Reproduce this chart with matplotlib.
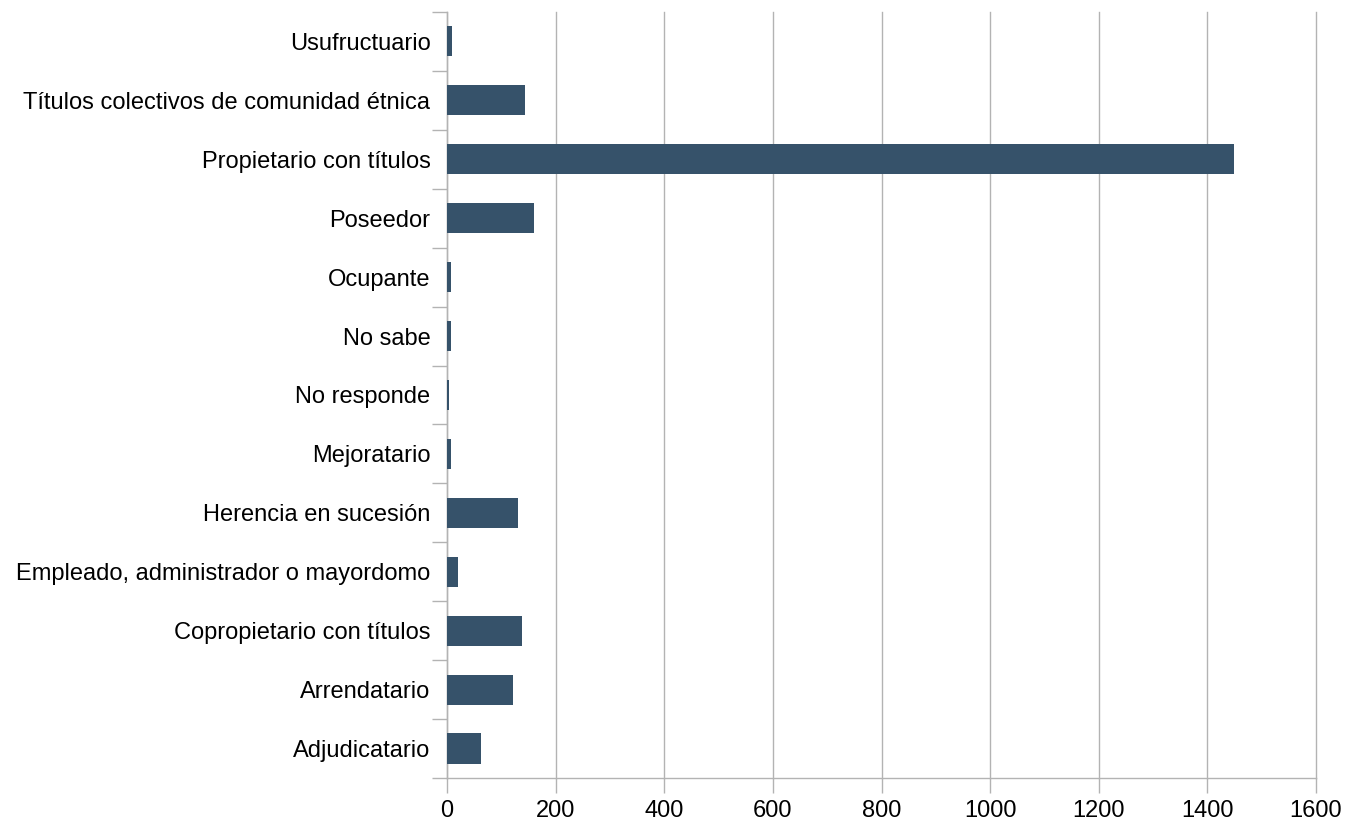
import numpy as np
import matplotlib.pyplot as plt
from matplotlib.ticker import FixedLocator

categories = [
    "Adjudicatario",
    "Arrendatario",
    "Copropietario con títulos",
    "Empleado, administrador o mayordomo",
    "Herencia en sucesión",
    "Mejoratario",
    "No responde",
    "No sabe",
    "Ocupante",
    "Poseedor",
    "Propietario con títulos",
    "Títulos colectivos de comunidad étnica",
    "Usufructuario",
]
values = [62, 121, 138, 21, 130, 8, 3, 8, 7, 161, 1450, 143, 10]
xticks = [0, 200, 400, 600, 800, 1000, 1200, 1400, 1600]

plt.rcParams["font.family"] = ["Liberation Sans", "DejaVu Sans"]

fig = plt.figure(figsize=(13.49, 8.25), dpi=100)
ax = fig.add_axes([0.3314, 0.057, 0.9755 - 0.3314, 0.9855 - 0.057])

y = np.arange(len(categories))
ax.barh(y, values, height=0.51, color="#36526a", zorder=3)

ax.set_xlim(0, 1600)
ax.set_ylim(-0.5, len(categories) - 0.5)
ax.set_xticks(xticks)
ax.set_xticklabels([str(t) for t in xticks], fontsize=17)
ax.set_yticks(y)
ax.set_yticklabels(categories, fontsize=17)
ax.yaxis.set_minor_locator(FixedLocator(np.arange(-0.5, len(categories), 1.0)))

ax.grid(axis="x", color="#b3b3b3", linewidth=1, zorder=0)
for gl in ax.get_xgridlines():
    gl.set_clip_on(False)
for s in ["top", "right"]:
    ax.spines[s].set_visible(False)
for s in ["left", "bottom"]:
    ax.spines[s].set_color("#b3b3b3")
    ax.spines[s].set_linewidth(1)

ax.tick_params(axis="y", which="major", length=0, pad=12)
ax.tick_params(axis="y", which="minor", length=11, color="#b3b3b3", width=1)
ax.tick_params(axis="x", which="major", length=11, color="#b3b3b3", width=1, pad=5)

fig.savefig("out.png", dpi=100)
